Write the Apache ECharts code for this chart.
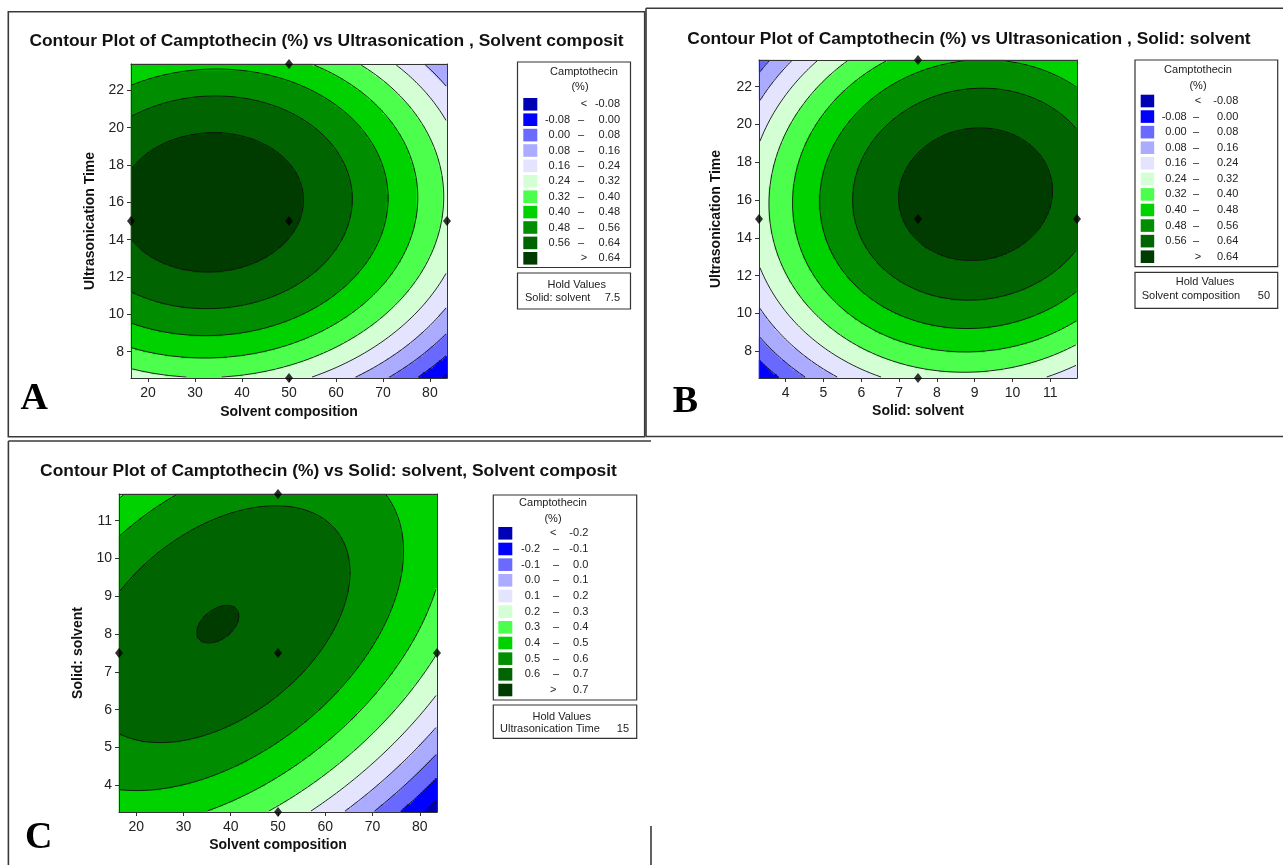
<!DOCTYPE html>
<html><head><meta charset="utf-8">
<script src="https://cdn.jsdelivr.net/npm/echarts@6/dist/echarts.min.js"></script>
<style>html,body{margin:0;padding:0;background:#fff;}#chart{width:1283px;height:865px;}</style>
</head><body><div id="chart"></div>
<script>
// ---------------- data ----------------
// factor ranges (axial points of the design, +-1.682 coded units)
const solventRange = [16.36, 83.64];
const timeRange = [6.59, 23.41];
const ratioRange = [3.295, 11.705];
// coding: [centre, step]
const solventCoding = [50, 20];
const timeCoding = [15, 5];
const ratioCoding = [7.5, 2.5];
// fitted quadratic surfaces (coded units): [b0, bx, by, bxx, byy, bxy]
const coefA = [0.6522, -0.1039, 0.0474, -0.062, -0.108, 0.005];   // x = solvent, y = time
const coefB = [0.6569, 0.0924, 0.0491, -0.078, -0.105, 0.010];    // x = solid:solvent, y = time
const coefC = [0.6565, -0.102, 0.0897, -0.065, -0.0809, 0.0635];  // x = solvent, y = solid:solvent
// contour levels and colours
const levelsAB = [-0.08, 0, 0.08, 0.16, 0.24, 0.32, 0.40, 0.48, 0.56, 0.64];
const levelsC = [-0.2, -0.1, 0, 0.1, 0.2, 0.3, 0.4, 0.5, 0.6, 0.7];
const levelColors = ['#0000B4', '#0000FF', '#6A6AFF', '#ABABFF', '#E4E4FF', '#D4FFD4', '#4DFF4D', '#00D200', '#008F00', '#006400', '#003C00'];
// tick labels
const solventTicks = [20, 30, 40, 50, 60, 70, 80];
const timeTicks = [8, 10, 12, 14, 16, 18, 20, 22];
const ratioTicks = [4, 5, 6, 7, 8, 9, 10, 11];
// design points
const designSolventTime = [[16.36, 15], [50, 15], [83.64, 15], [50, 6.59], [50, 23.41]];
const designRatioTime = [[3.295, 15], [7.5, 15], [11.705, 15], [7.5, 6.59], [7.5, 23.41]];
const designSolventRatio = [[16.36, 7.5], [50, 7.5], [83.64, 7.5], [50, 3.295], [50, 11.705]];
// texts
const titleTexts = ['Contour Plot of Camptothecin (%) vs Ultrasonication , Solvent composit',
  'Contour Plot of Camptothecin (%) vs Ultrasonication , Solid: solvent',
  'Contour Plot of Camptothecin (%) vs Solid: solvent, Solvent composit'];
const holdLabels = ['Solid: solvent', 'Solvent composition', 'Ultrasonication Time'];
const holdValues = ['7.5', '50', '15'];
const panelLetters = ['A', 'B', 'C'];

// ---------------- layout ----------------
const FONT = '"Liberation Sans", Arial, sans-serif';
const CELL = 2;
const panels = [
  { coef: coefA, xr: solventRange, yr: timeRange, xcod: solventCoding, ycod: timeCoding, levels: levelsAB, digits: 2,
    xTicks: solventTicks, yTicks: timeTicks, xName: 'Solvent composition', yName: 'Ultrasonication Time', design: designSolventTime,
    grid: { left: 131, top: 64, width: 316, height: 314 }, xGap: 27, yGap: 34,
    title: [326.5, 41.7], letter: [20.5, 399],
    lg: { box: [517.5, 62, 113, 205.5], sw: 523.3, swW: 14, y0: 104.3, pitch: 15.4, t1: [584, 71.7], t2: [580, 87.3], lv: 570, dash: 581, rv: 620, sym: 584,
          hold: [517.5, 273, 113, 36], hv: [576.7, 285], hl: [525, 297.7], hr: 620 } },
  { coef: coefB, xr: ratioRange, yr: timeRange, xcod: ratioCoding, ycod: timeCoding, levels: levelsAB, digits: 2,
    xTicks: ratioTicks, yTicks: timeTicks, xName: 'Solid: solvent', yName: 'Ultrasonication Time', design: designRatioTime,
    grid: { left: 759, top: 60, width: 318, height: 318 }, xGap: 26, yGap: 36,
    title: [969, 39.3], letter: [672.8, 402],
    lg: { box: [1135, 60, 142.7, 206.7], sw: 1140.7, swW: 13.5, y0: 101, pitch: 15.57, t1: [1198, 70], t2: [1198, 86], lv: 1186.7, dash: 1196, rv: 1238.3, sym: 1198,
          hold: [1135, 272.3, 142.7, 36], hv: [1205, 281.7], hl: [1141.7, 295.5], hr: 1270 } },
  { coef: coefC, xr: solventRange, yr: ratioRange, xcod: solventCoding, ycod: ratioCoding, levels: levelsC, digits: 1,
    xTicks: solventTicks, yTicks: ratioTicks, xName: 'Solvent composition', yName: 'Solid: solvent', design: designSolventRatio,
    grid: { left: 119, top: 494, width: 318, height: 318 }, xGap: 26.5, yGap: 34,
    title: [328.5, 471.7], letter: [25, 838],
    lg: { box: [493.3, 495, 143.4, 205], sw: 498.3, swW: 14, y0: 533.3, pitch: 15.67, t1: [553, 503.3], t2: [553, 519.3], lv: 540, dash: 556, rv: 588.3, sym: 553.3,
          hold: [493.3, 705, 143.4, 33.3], hv: [561.7, 716.7], hl: [500, 729.3], hr: 629 } }
];

function evalModel(c, a, b) {
  return c[0] + c[1] * a + c[2] * b + c[3] * a * a + c[4] * b * b + c[5] * a * b;
}

function contourSegments(g, xs, ys, L) {
  const segs = [];
  const ny = ys.length, nx = xs.length;
  for (let j = 0; j < ny - 1; j++) {
    for (let i = 0; i < nx - 1; i++) {
      const v00 = g[j][i], v10 = g[j][i + 1], v11 = g[j + 1][i + 1], v01 = g[j + 1][i];
      const pts = [];
      if ((v00 >= L) !== (v10 >= L)) { const t = (L - v00) / (v10 - v00); pts.push([xs[i] + t * (xs[i + 1] - xs[i]), ys[j]]); }
      if ((v10 >= L) !== (v11 >= L)) { const t = (L - v10) / (v11 - v10); pts.push([xs[i + 1], ys[j] + t * (ys[j + 1] - ys[j])]); }
      if ((v11 >= L) !== (v01 >= L)) { const t = (L - v11) / (v01 - v11); pts.push([xs[i + 1] + t * (xs[i] - xs[i + 1]), ys[j + 1]]); }
      if ((v01 >= L) !== (v00 >= L)) { const t = (L - v01) / (v00 - v01); pts.push([xs[i], ys[j + 1] + t * (ys[j] - ys[j + 1])]); }
      if (pts.length >= 2) segs.push([pts[0][0], pts[0][1], pts[1][0], pts[1][1]]);
      if (pts.length === 4) segs.push([pts[2][0], pts[2][1], pts[3][0], pts[3][1]]);
    }
  }
  return segs;
}

const grids = [], xAxes = [], yAxes = [], series = [], visualMaps = [], graphics = [];

panels.forEach((p, k) => {
  const NX = Math.round(p.grid.width / CELL), NY = Math.round(p.grid.height / CELL);
  grids.push(Object.assign({ containLabel: false }, p.grid));
  grids.push(Object.assign({ containLabel: false }, p.grid));
  const hg = 2 * k, vg = 2 * k + 1;
  xAxes.push({ type: 'category', gridIndex: hg, data: Array.from({ length: NX }, (_, i) => i), show: false });
  yAxes.push({ type: 'category', gridIndex: hg, data: Array.from({ length: NY }, (_, i) => i), show: false });
  const hx = xAxes.length - 1, hy = yAxes.length - 1;
  xAxes.push({ type: 'value', gridIndex: vg, min: p.xr[0], max: p.xr[1], position: 'bottom', z: 10,
    name: p.xName, nameLocation: 'middle', nameGap: p.xGap,
    nameTextStyle: { fontFamily: FONT, fontSize: 14, fontWeight: 'bold', color: '#111' },
    axisLine: { show: true, onZero: false, lineStyle: { color: '#333', width: 1 } },
    axisTick: { show: true, length: 4, customValues: p.xTicks, lineStyle: { color: '#333' } },
    axisLabel: { customValues: p.xTicks, fontFamily: FONT, fontSize: 14, color: '#222', margin: 8 },
    splitLine: { show: false } });
  const vx = xAxes.length - 1;
  xAxes.push({ type: 'value', gridIndex: vg, min: p.xr[0], max: p.xr[1], position: 'top', z: 10,
    axisLine: { show: true, onZero: false, lineStyle: { color: '#333', width: 1 } },
    axisTick: { show: false }, axisLabel: { show: false }, splitLine: { show: false } });
  yAxes.push({ type: 'value', gridIndex: vg, min: p.yr[0], max: p.yr[1], position: 'left', z: 10,
    name: p.yName, nameLocation: 'middle', nameGap: p.yGap,
    nameTextStyle: { fontFamily: FONT, fontSize: 14, fontWeight: 'bold', color: '#111' },
    axisLine: { show: true, onZero: false, lineStyle: { color: '#333', width: 1 } },
    axisTick: { show: true, length: 4, customValues: p.yTicks, lineStyle: { color: '#333' } },
    axisLabel: { customValues: p.yTicks, fontFamily: FONT, fontSize: 14, color: '#222', margin: 7 },
    splitLine: { show: false } });
  const vy = yAxes.length - 1;
  yAxes.push({ type: 'value', gridIndex: vg, min: p.yr[0], max: p.yr[1], position: 'right', z: 10,
    axisLine: { show: true, onZero: false, lineStyle: { color: '#333', width: 1 } },
    axisTick: { show: false }, axisLabel: { show: false }, splitLine: { show: false } });

  const xs = [], ys = [];
  for (let i = 0; i < NX; i++) xs.push(p.xr[0] + (i + 0.5) * (p.xr[1] - p.xr[0]) / NX);
  for (let j = 0; j < NY; j++) ys.push(p.yr[0] + (j + 0.5) * (p.yr[1] - p.yr[0]) / NY);
  const g = [], heat = [];
  for (let j = 0; j < NY; j++) {
    const row = [];
    const b = (ys[j] - p.ycod[0]) / p.ycod[1];
    for (let i = 0; i < NX; i++) {
      const a = (xs[i] - p.xcod[0]) / p.xcod[1];
      const v = evalModel(p.coef, a, b);
      row.push(v);
      heat.push([i, j, v]);
    }
    g.push(row);
  }
  p.heat = heat;
  p.segs = [];
  p.levels.forEach(L => { p.segs = p.segs.concat(contourSegments(g, xs, ys, L)); });
  p.hx = hx; p.hy = hy; p.vx = vx; p.vy = vy;

  const pieces = [{ lt: p.levels[0], color: levelColors[0] }];
  for (let m = 1; m < p.levels.length; m++) pieces.push({ gte: p.levels[m - 1], lt: p.levels[m], color: levelColors[m] });
  pieces.push({ gte: p.levels[p.levels.length - 1], color: levelColors[levelColors.length - 1] });
  visualMaps.push({ type: 'piecewise', show: false, seriesIndex: k, dimension: 2, pieces: pieces });
});

panels.forEach((p) => {
  series.push({ type: 'heatmap', xAxisIndex: p.hx, yAxisIndex: p.hy, data: p.heat, progressive: 0, silent: true,
    itemStyle: { borderWidth: 0 }, emphasis: { disabled: true } });
});
panels.forEach((p) => {
  const segs = p.segs;
  series.push({ type: 'custom', xAxisIndex: p.vx, yAxisIndex: p.vy, data: [[p.xr[0], p.yr[0]]], silent: true, z: 5, clip: false,
    renderItem: function (params, api) {
      let d = '';
      for (let s = 0; s < segs.length; s++) {
        const q1 = api.coord([segs[s][0], segs[s][1]]);
        const q2 = api.coord([segs[s][2], segs[s][3]]);
        d += 'M' + q1[0].toFixed(2) + ' ' + q1[1].toFixed(2) + 'L' + q2[0].toFixed(2) + ' ' + q2[1].toFixed(2);
      }
      return { type: 'path', shape: { pathData: d }, style: { fill: 'none', stroke: '#111', lineWidth: 0.9 } };
    } });
});
panels.forEach((p) => {
  series.push({ type: 'scatter', xAxisIndex: p.vx, yAxisIndex: p.vy, data: p.design, symbol: 'diamond', symbolSize: [8, 10],
    itemStyle: { color: '#000' }, clip: false, z: 20, silent: true });
});

// ---------------- graphic: frames, titles, legends ----------------
function txt(x, y, text, opts) {
  opts = opts || {};
  return { type: 'text', z: 100, x: x, y: y, silent: true,
    style: { text: text, fill: opts.color || '#222', font: opts.font || ('11px ' + FONT),
      textAlign: opts.align || 'left', textVerticalAlign: opts.va || 'middle', align: opts.align || 'left', verticalAlign: opts.va || 'middle' } };
}
function line(x1, y1, x2, y2) {
  return { type: 'line', z: 100, silent: true, shape: { x1: x1, y1: y1, x2: x2, y2: y2 }, style: { stroke: '#3a3a3a', lineWidth: 1.6 } };
}
graphics.push({ type: 'rect', z: 90, silent: true, shape: { x: 8.3, y: 11.7, width: 636.4, height: 425 }, style: { fill: 'none', stroke: '#3a3a3a', lineWidth: 1.6 } });
graphics.push(line(646, 8.3, 1283, 8.3));
graphics.push(line(646, 8.3, 646, 436.5));
graphics.push(line(646, 436.5, 1283, 436.5));
graphics.push(line(8.4, 441, 651, 441));
graphics.push(line(8.4, 441, 8.4, 865));
graphics.push(line(651, 826, 651, 865));

panels.forEach((p, k) => {
  graphics.push(txt(p.title[0], p.title[1], titleTexts[k], { align: 'center', font: 'bold 17.4px ' + FONT, color: '#111' }));
  graphics.push(txt(p.letter[0], p.letter[1], panelLetters[k], { font: 'bold 38px "Liberation Serif", "Times New Roman", serif', color: '#000' }));
  const lg = p.lg;
  graphics.push({ type: 'rect', z: 95, silent: true, shape: { x: lg.box[0], y: lg.box[1], width: lg.box[2], height: lg.box[3] }, style: { fill: '#fff', stroke: '#333', lineWidth: 1.2 } });
  graphics.push(txt(lg.t1[0], lg.t1[1], 'Camptothecin', { align: 'center' }));
  graphics.push(txt(lg.t2[0], lg.t2[1], '(%)', { align: 'center' }));
  const fmt = v => v.toFixed(p.digits);
  const nL = p.levels.length;
  for (let r = 0; r <= nL; r++) {
    const y = lg.y0 + r * lg.pitch;
    graphics.push({ type: 'rect', z: 100, silent: true, shape: { x: lg.sw, y: y - 6.3, width: lg.swW, height: 12.6 }, style: { fill: levelColors[r] } });
    if (r === 0) {
      graphics.push(txt(lg.sym, y, '<', { align: 'center' }));
      graphics.push(txt(lg.rv, y, fmt(p.levels[0]), { align: 'right' }));
    } else if (r === nL) {
      graphics.push(txt(lg.sym, y, '>', { align: 'center' }));
      graphics.push(txt(lg.rv, y, fmt(p.levels[nL - 1]), { align: 'right' }));
    } else {
      graphics.push(txt(lg.lv, y, fmt(p.levels[r - 1]), { align: 'right' }));
      graphics.push(txt(lg.dash, y, '\u2013', { align: 'center' }));
      graphics.push(txt(lg.rv, y, fmt(p.levels[r]), { align: 'right' }));
    }
  }
  graphics.push({ type: 'rect', z: 95, silent: true, shape: { x: lg.hold[0], y: lg.hold[1], width: lg.hold[2], height: lg.hold[3] }, style: { fill: '#fff', stroke: '#333', lineWidth: 1.2 } });
  graphics.push(txt(lg.hv[0], lg.hv[1], 'Hold Values', { align: 'center' }));
  graphics.push(txt(lg.hl[0], lg.hl[1], holdLabels[k], { align: 'left' }));
  graphics.push(txt(lg.hr, lg.hl[1], holdValues[k], { align: 'right' }));
});

const chart = echarts.init(document.getElementById('chart'), null, { renderer: 'canvas', width: 1283, height: 865 });
chart.setOption({
  animation: false,
  backgroundColor: '#fff',
  grid: grids,
  xAxis: xAxes,
  yAxis: yAxes,
  visualMap: visualMaps,
  series: series,
  graphic: { elements: graphics }
});
</script>
</body></html>
